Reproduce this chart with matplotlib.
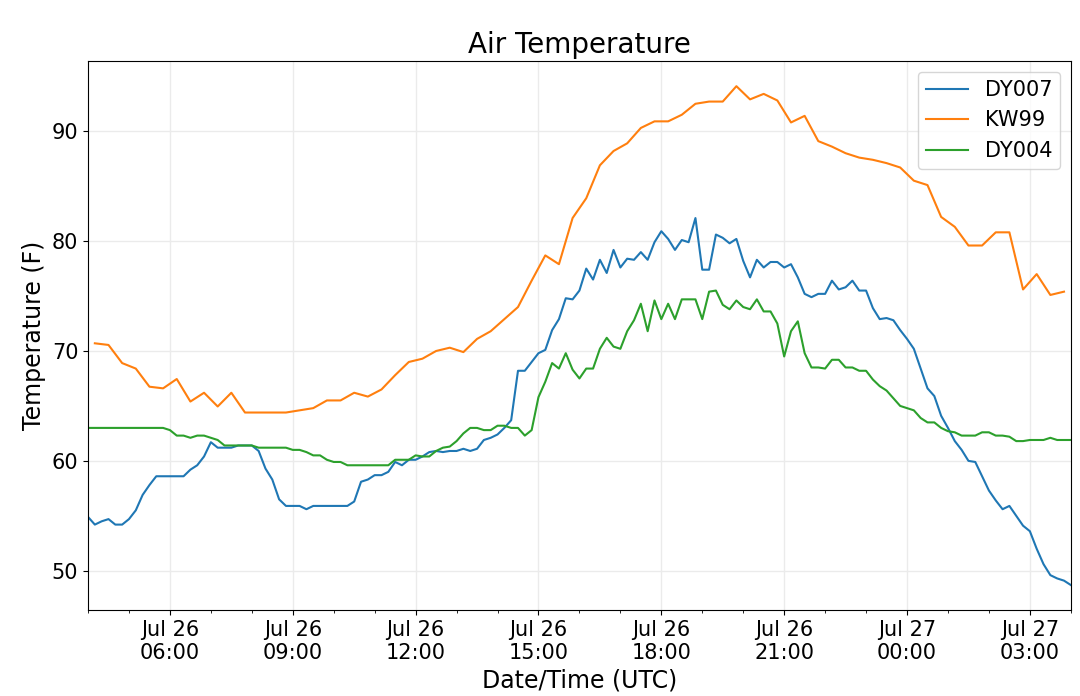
import numpy as np
import pandas as pd
import matplotlib
matplotlib.use("Agg")
import matplotlib.pyplot as plt
import matplotlib.dates as mdates

# DY007 and DY004: 10-minute data, Jul 26 04:00 -> Jul 27 04:00
dy_start = "2019-07-26 04:00"
dy007 = [54.9, 54.2, 54.5, 54.7, 54.2, 54.2, 54.7, 55.5, 56.9, 57.8,
         58.6, 58.6, 58.6, 58.6, 58.6, 59.2, 59.6, 60.4, 61.7, 61.2,
         61.2, 61.2, 61.4, 61.4, 61.4, 60.9, 59.3, 58.3, 56.5, 55.9,
         55.9, 55.9, 55.6, 55.9, 55.9, 55.9, 55.9, 55.9, 55.9, 56.3,
         58.1, 58.3, 58.7, 58.7, 59.0, 59.9, 59.6, 60.1, 60.1, 60.4,
         60.8, 60.9, 60.8, 60.9, 60.9, 61.1, 60.9, 61.1, 61.9, 62.1,
         62.4, 63.0, 63.7, 68.2, 68.2, 69.0, 69.8, 70.1, 71.9, 72.9,
         74.8, 74.7, 75.5, 77.5, 76.5, 78.3, 77.1, 79.2, 77.6, 78.4,
         78.3, 79.0, 78.3, 79.9, 80.9, 80.2, 79.2, 80.1, 79.9, 82.1,
         77.4, 77.4, 80.6, 80.3, 79.8, 80.2, 78.2, 76.7, 78.3, 77.6,
         78.1, 78.1, 77.6, 77.9, 76.7, 75.2, 74.9, 75.2, 75.2, 76.4,
         75.6, 75.8, 76.4, 75.5, 75.5, 73.9, 72.9, 73.0, 72.8, 71.9,
         71.1, 70.2, 68.4, 66.6, 65.9, 64.1, 63.0, 61.8, 61.0, 60.0,
         59.9, 58.6, 57.3, 56.4, 55.6, 55.9, 55.0, 54.1, 53.6, 52.0,
         50.6, 49.6, 49.3, 49.1, 48.7]
dy004 = [63.0, 63.0, 63.0, 63.0, 63.0, 63.0, 63.0, 63.0, 63.0, 63.0,
         63.0, 63.0, 62.8, 62.3, 62.3, 62.1, 62.3, 62.3, 62.1, 61.9,
         61.4, 61.4, 61.4, 61.4, 61.4, 61.2, 61.2, 61.2, 61.2, 61.2,
         61.0, 61.0, 60.8, 60.5, 60.5, 60.1, 59.9, 59.9, 59.6, 59.6,
         59.6, 59.6, 59.6, 59.6, 59.6, 60.1, 60.1, 60.1, 60.5, 60.4,
         60.4, 60.9, 61.2, 61.3, 61.8, 62.5, 63.0, 63.0, 62.8, 62.8,
         63.2, 63.2, 63.0, 63.0, 62.3, 62.8, 65.8, 67.2, 68.9, 68.4,
         69.8, 68.3, 67.5, 68.4, 68.4, 70.2, 71.2, 70.4, 70.2, 71.8,
         72.8, 74.3, 71.8, 74.6, 72.9, 74.3, 72.9, 74.7, 74.7, 74.7,
         72.9, 75.4, 75.5, 74.2, 73.8, 74.6, 74.0, 73.8, 74.7, 73.6,
         73.6, 72.5, 69.5, 71.8, 72.7, 69.8, 68.5, 68.5, 68.4, 69.2,
         69.2, 68.5, 68.5, 68.2, 68.2, 67.4, 66.8, 66.4, 65.7, 65.0,
         64.8, 64.6, 63.9, 63.5, 63.5, 63.0, 62.7, 62.6, 62.3, 62.3,
         62.3, 62.6, 62.6, 62.3, 62.3, 62.2, 61.8, 61.8, 61.9, 61.9,
         61.9, 62.1, 61.9, 61.9, 61.9]

# KW99: 20-minute data, Jul 26 04:10 -> Jul 27 03:50
kw_start = "2019-07-26 04:10"
kw99 = [70.7, 70.55, 68.9, 68.4, 66.75, 66.6, 67.45, 65.4, 66.2, 64.95,
        66.2, 64.4, 64.4, 64.4, 64.4, 64.6, 64.8, 65.5, 65.5, 66.2,
        65.85, 66.5, 67.8, 69.0, 69.3, 70.0, 70.3, 69.9, 71.1, 71.8,
        72.9, 74.0, 76.4, 78.7, 77.9, 82.1, 83.9, 86.9, 88.2, 88.9,
        90.3, 90.9, 90.9, 91.5, 92.5, 92.7, 92.7, 94.1, 92.9, 93.4,
        92.8, 90.8, 91.4, 89.1, 88.6, 88.0, 87.6, 87.4, 87.1, 86.7,
        85.5, 85.1, 82.2, 81.3, 79.6, 79.6, 80.8, 80.8, 75.6, 77.0,
        75.1, 75.4]

t_dy = pd.date_range(dy_start, periods=len(dy007), freq="10min")
t_kw = pd.date_range(kw_start, periods=len(kw99), freq="20min")

fig = plt.figure(figsize=(10.8, 6.96), dpi=100)
ax = fig.add_axes([0.0815, 0.1236, 0.91, 0.7884])

ax.plot(t_dy, dy007, label="DY007")
ax.plot(t_kw, kw99, label="KW99")
ax.plot(t_dy, dy004, label="DY004")

ax.set_xlim(pd.Timestamp("2019-07-26 04:00"), pd.Timestamp("2019-07-27 04:00"))
ax.xaxis.set_major_locator(mdates.HourLocator(byhour=range(0, 24, 3)))
ax.xaxis.set_minor_locator(mdates.HourLocator())
ax.xaxis.set_major_formatter(mdates.DateFormatter("%b %d\n%H:%M"))
ax.grid(True, color="#ebebeb", linewidth=1)
ax.set_axisbelow(True)

ax.tick_params(labelsize=15)
ax.set_title("Air Temperature", fontsize=20)
ax.set_xlabel("Date/Time (UTC)", fontsize=17)
ax.set_ylabel("Temperature (F)", fontsize=17)
ax.legend(loc="upper right", fontsize=15)

fig.savefig("out.png")
